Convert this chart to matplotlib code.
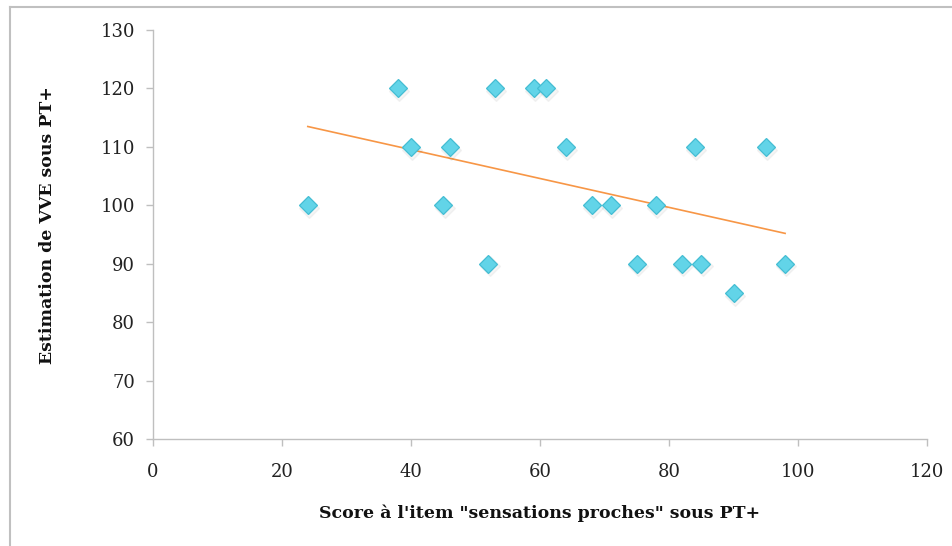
import numpy as np
import matplotlib
matplotlib.use("Agg")
import matplotlib.pyplot as plt
from matplotlib.lines import Line2D
import matplotlib.transforms as mtransforms

# Data
score = [24, 38, 40, 45, 46, 52, 53, 59, 61, 64, 68, 71, 75, 78, 82, 84, 85, 90, 95, 98]
vve   = [100, 120, 110, 100, 110, 90, 120, 120, 120, 110, 100, 100, 90, 100, 90, 110, 90, 85, 110, 90]

x_ticks = [0, 20, 40, 60, 80, 100, 120]
y_ticks = [60, 70, 80, 90, 100, 110, 120, 130]
x_label = "Score à l'item \"sensations proches\" sous PT+"
y_label = "Estimation de VVE sous PT+"

plt.rcParams['font.family'] = ['DejaVu Serif']

W, H = 952, 546
fig = plt.figure(figsize=(W / 100, H / 100), dpi=100)
ax_w = (927 - 153) / W
ax_h = (439 - 30) / H
ax = fig.add_axes([153 / W, 1 - 439 / H, ax_w, ax_h])

xs = np.array(score, dtype=float)
ys = np.array(vve, dtype=float)

# Linear trend line
slope, intercept = np.polyfit(xs, ys, 1)
xl = np.array([xs.min(), xs.max()])
ax.plot(xl, slope * xl + intercept, color='#F79646', lw=1.2, zorder=2)

# Soft shadows for markers
shadow = ax.transData + mtransforms.ScaledTranslation(1.0 / 72, -2.0 / 72, fig.dpi_scale_trans)
ax.plot(xs, ys, linestyle='none', marker='D', markersize=10, color='#000000',
        alpha=0.04, zorder=2.5, transform=shadow)
ax.plot(xs, ys, linestyle='none', marker='D', markersize=9.5,
        markerfacecolor='#62D4E8', markeredgecolor='#44BDD3', markeredgewidth=0.9, zorder=3)

ax.set_xlim(0, 120)
ax.set_ylim(60, 130)
ax.set_xticks(x_ticks)
ax.set_yticks(y_ticks)

for s in ['top', 'right']:
    ax.spines[s].set_visible(False)
for s in ['left', 'bottom']:
    ax.spines[s].set_color('#BFBFBF')
    ax.spines[s].set_linewidth(1.0)

ax.tick_params(axis='both', colors='#BFBFBF', length=5, width=1.0,
               labelcolor='#222222', labelsize=13)
ax.tick_params(axis='x', pad=12)
ax.tick_params(axis='y', pad=8)

ax.set_xlabel(x_label, fontsize=12.5, fontweight='bold', color='#111111', va='center')
ax.set_ylabel(y_label, fontsize=12.5, fontweight='bold', color='#111111', va='center')
ax.xaxis.set_label_coords(0.5, -(513 - 439) / (439 - 30))
ax.yaxis.set_label_coords(-(153 - 48) / (927 - 153), (439 - 225) / (439 - 30))

# Frame lines around the figure (top and left)
fig.add_artist(Line2D([9.5 / W, 1.0], [1 - 7 / H, 1 - 7 / H], transform=fig.transFigure,
                      color='#C0C0C0', lw=1.5))
fig.add_artist(Line2D([9.5 / W, 9.5 / W], [0.0, 1 - 7 / H], transform=fig.transFigure,
                      color='#C0C0C0', lw=1.5))

fig.savefig('out.png', dpi=100, facecolor='white')
